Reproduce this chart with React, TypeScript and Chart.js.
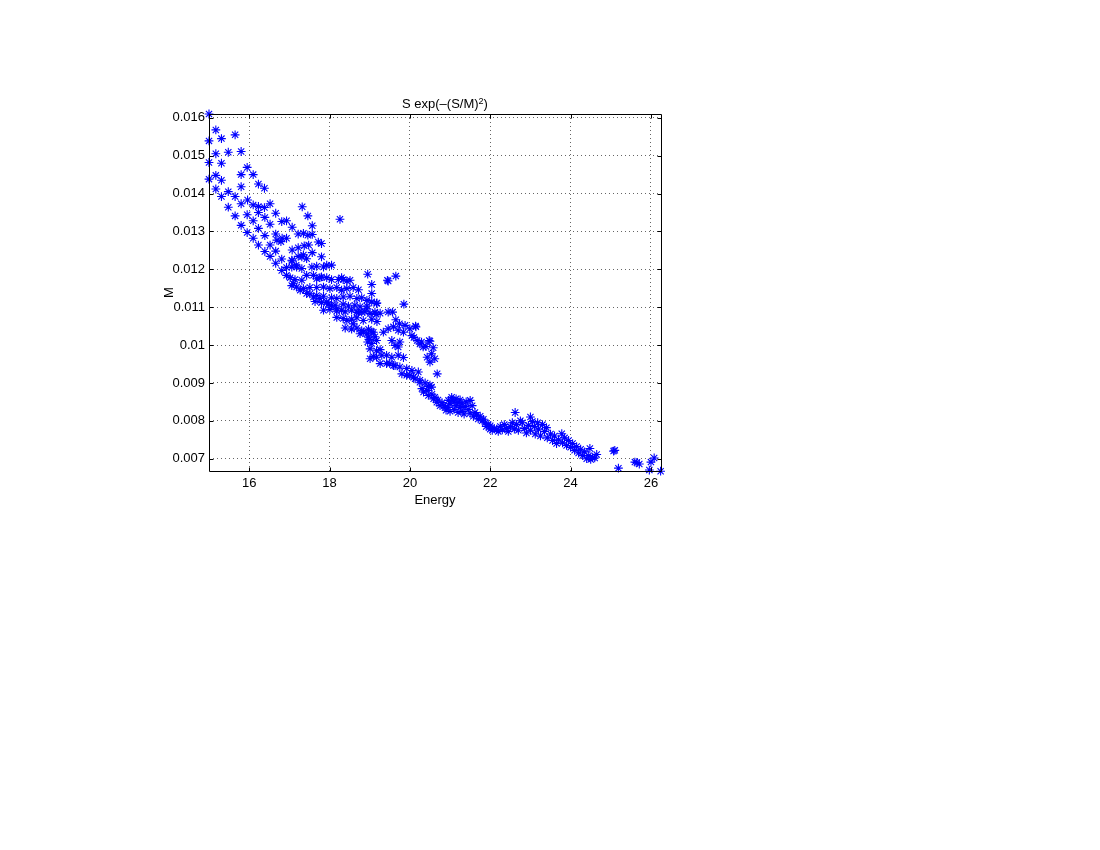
import React, { useEffect, useRef } from 'react';
import { Chart, registerables } from 'chart.js';

Chart.register(...registerables);

const FONT = "'Liberation Sans', Arial, Helvetica, sans-serif";

const titleMain = 'S exp(\u2013(S/M)';
const titleSup = '2';
const titleEnd = ')';
const xLabel = 'Energy';
const yLabel = 'M';

const xTickValues = [16, 18, 20, 22, 24, 26];
const xTickLabels = ['16', '18', '20', '22', '24', '26'];
const yTickValues = [0.007, 0.008, 0.009, 0.01, 0.011, 0.012, 0.013, 0.014, 0.015, 0.016];
const yTickLabels = ['0.007', '0.008', '0.009', '0.01', '0.011', '0.012', '0.013', '0.014', '0.015', '0.016'];

const xMin = 15;
const xMax = 26.25;
const yMin = 0.006675;
const yMax = 0.0161;

// [Energy, M] pairs
const upperLeft: [number, number][] = [
  [15.0, 0.0161], [15.17, 0.01568], [15.0, 0.01539], [15.31, 0.01545], [15.65, 0.01555],
  [15.17, 0.01505], [15.48, 0.01509], [15.8, 0.01511], [15.0, 0.01482], [15.31, 0.0148],
  [15.95, 0.01469], [15.8, 0.0145], [16.1, 0.0145], [15.17, 0.01448], [15.0, 0.01438],
  [15.31, 0.01435], [16.23, 0.01425], [16.38, 0.01414], [15.8, 0.01418], [15.17, 0.01412],
  [15.48, 0.01405], [15.31, 0.01392], [15.65, 0.01392], [15.96, 0.01383], [15.8, 0.01373],
  [16.1, 0.0137], [16.23, 0.01366], [16.38, 0.01363], [16.52, 0.01373], [15.48, 0.01364],
  [16.23, 0.0135], [16.66, 0.01348], [15.65, 0.01341], [15.95, 0.01344], [16.39, 0.01337],
  [16.1, 0.01328], [16.81, 0.01326], [16.93, 0.01328], [16.52, 0.01319], [15.8, 0.01316],
  [17.07, 0.01311], [16.23, 0.01308], [17.32, 0.01365], [17.46, 0.01341], [17.57, 0.01315],
  [15.95, 0.01297], [16.66, 0.01293], [16.82, 0.01282], [16.93, 0.01282], [17.22, 0.01293],
  [17.35, 0.01295], [16.39, 0.01289], [16.1, 0.01282], [17.46, 0.0129], [17.57, 0.01292],
  [16.69, 0.01277], [16.23, 0.01264], [16.52, 0.01264], [16.79, 0.01273], [17.72, 0.01272],
  [17.8, 0.01268], [17.07, 0.01251], [17.22, 0.01257], [17.37, 0.01262], [17.48, 0.01264],
  [16.39, 0.01247], [16.66, 0.01248], [17.57, 0.01244], [16.52, 0.01234], [17.07, 0.01222],
  [17.22, 0.01234], [17.35, 0.01238], [17.8, 0.01233], [16.66, 0.01216], [16.81, 0.01227],
  [17.17, 0.01211], [18.26, 0.01332],
];

const mainBand: [number, number][] = [
  [16.81, 0.01197], [16.93, 0.01205], [16.93, 0.01184], [17.06, 0.01206], [17.18, 0.01206],
  [17.31, 0.01202], [17.56, 0.01206], [17.68, 0.01208], [17.85, 0.01206], [18.05, 0.01211],
  [17.93, 0.01211], [17.06, 0.01224], [17.31, 0.01233], [17.43, 0.01228],
  [17.02, 0.01178], [17.14, 0.01173], [17.31, 0.01171], [17.43, 0.01184], [17.6, 0.01184],
  [17.76, 0.01178], [17.93, 0.01178], [18.05, 0.01173], [18.22, 0.01173], [18.34, 0.01173],
  [18.51, 0.01171], [18.3, 0.01178], [18.43, 0.01169], [17.68, 0.01175], [17.8, 0.0118],
  [17.06, 0.01157], [17.18, 0.01153], [17.35, 0.01149], [17.51, 0.01152], [17.68, 0.01152],
  [17.85, 0.01153], [18.01, 0.01149], [18.18, 0.01152], [18.3, 0.01145], [18.43, 0.01149],
  [18.59, 0.01152], [18.72, 0.01146], [17.1, 0.01162], [17.27, 0.01145],
  [17.43, 0.01136], [17.51, 0.01135], [17.68, 0.01131], [17.85, 0.01129], [18.05, 0.01125],
  [18.18, 0.01123], [18.34, 0.01127], [18.51, 0.01129], [18.68, 0.01123], [18.8, 0.01125],
  [18.93, 0.01118], [17.6, 0.01127], [17.76, 0.01123], [19.05, 0.01114], [19.18, 0.01111],
  [17.64, 0.01115], [17.8, 0.01112], [17.93, 0.01114], [17.97, 0.01108], [18.14, 0.01105],
  [18.34, 0.01108], [18.47, 0.01103], [18.63, 0.01105], [18.76, 0.01101], [18.93, 0.01103],
  [18.05, 0.01105], [18.18, 0.01096], [18.3, 0.01092],
  [17.85, 0.01092], [18.01, 0.01094], [18.18, 0.0109], [18.39, 0.01088], [18.55, 0.01092],
  [18.72, 0.01086], [18.88, 0.01088], [19.01, 0.01083], [19.13, 0.01087], [19.26, 0.01084],
  [18.68, 0.01087], [18.8, 0.01087], [18.93, 0.01096], [19.16, 0.01081],
  [18.18, 0.01073], [18.34, 0.0107], [18.55, 0.01068], [18.68, 0.01072], [18.84, 0.01065],
  [19.05, 0.01068], [19.18, 0.01062], [18.43, 0.01065], [18.59, 0.01056],
  [18.39, 0.01045], [18.55, 0.01042], [18.68, 0.01045], [18.8, 0.01038], [18.97, 0.01042],
  [19.05, 0.01035], [18.84, 0.01034], [18.97, 0.01021],
  [18.76, 0.0103], [18.93, 0.0103], [19.09, 0.01034], [19.17, 0.01012], [19.13, 0.01022],
  [19.0, 0.01015], [19.05, 0.01004], [18.95, 0.01008], [19.01, 0.0099], [19.17, 0.00985],
  [18.95, 0.01187], [19.46, 0.01169], [19.65, 0.01182], [19.05, 0.0116], [19.05, 0.01136],
  [19.44, 0.01171],
];

const splitBands: [number, number][] = [
  [19.85, 0.01108], [19.17, 0.0111], [19.46, 0.01087], [19.57, 0.01087],
  [19.65, 0.01067], [19.74, 0.01056], [19.88, 0.01052], [20.0, 0.01043], [20.15, 0.01048],
  [20.14, 0.0105], [19.34, 0.01034], [19.46, 0.01043], [19.59, 0.01048], [19.71, 0.01039],
  [19.84, 0.01034], [20.18, 0.01012], [20.29, 0.01008], [20.48, 0.01012], [20.4, 0.00996],
  [20.58, 0.00993], [20.54, 0.00977], [20.62, 0.00964], [20.68, 0.00924], [20.5, 0.0101],
  [20.05, 0.01025], [20.1, 0.0102], [20.25, 0.01003], [20.33, 0.00995],
  [19.55, 0.01012], [19.75, 0.01008], [19.63, 0.00999], [19.71, 0.00995], [20.43, 0.00968],
  [20.5, 0.00955], [19.26, 0.00988],
  [19.17, 0.00968], [19.3, 0.00973], [19.42, 0.00973], [19.55, 0.00968], [19.71, 0.00973],
  [19.84, 0.00967], [19.01, 0.00964], [19.09, 0.0097],
  [19.26, 0.00951], [19.42, 0.00951], [19.59, 0.00946], [19.75, 0.00942], [19.92, 0.00938],
  [20.05, 0.00933], [20.21, 0.00929], [19.5, 0.00951], [19.63, 0.00946],
  [19.8, 0.00924], [19.92, 0.0092], [20.09, 0.00915], [20.25, 0.00907], [20.38, 0.009],
  [20.46, 0.00891], [20.5, 0.00894], [20.54, 0.00889], [20.0, 0.0092], [20.13, 0.00911],
];

const lowerBand: [number, number][] = [
  [20.25, 0.00902], [20.3, 0.00885], [20.34, 0.00876], [20.42, 0.0088], [20.46, 0.00867],
  [20.55, 0.0087], [20.59, 0.00858], [20.62, 0.00862], [20.67, 0.00849], [20.7, 0.00855],
  [20.75, 0.0084], [20.8, 0.00848], [20.85, 0.0084], [20.88, 0.00836], [20.9, 0.00828],
  [20.96, 0.00854], [20.95, 0.00835], [21.0, 0.00845], [21.0, 0.00825], [21.04, 0.00862],
  [21.05, 0.00855], [21.1, 0.0085], [21.1, 0.0083], [21.15, 0.00858], [21.15, 0.0084],
  [21.2, 0.00822], [21.2, 0.00848], [21.25, 0.00855], [21.25, 0.00835], [21.3, 0.00845],
  [21.3, 0.00825], [21.35, 0.00818], [21.38, 0.00838], [21.4, 0.0085], [21.45, 0.0083],
  [21.5, 0.00854], [21.5, 0.0082], [21.55, 0.0084], [21.58, 0.00812], [21.62, 0.00822],
  [21.66, 0.00815], [21.7, 0.00805], [21.75, 0.00812], [21.8, 0.008], [21.83, 0.00804],
  [21.88, 0.00795], [21.9, 0.00785], [21.95, 0.0079], [22.0, 0.00787], [22.0, 0.00778],
  [22.05, 0.00775], [22.1, 0.0078], [22.16, 0.00778], [22.2, 0.00772], [22.25, 0.00785],
  [22.3, 0.00776], [22.35, 0.0079], [22.4, 0.0078], [22.45, 0.00772], [22.5, 0.00785],
  [22.55, 0.00795], [22.62, 0.00822], [22.6, 0.00778], [22.65, 0.0079], [22.7, 0.00775],
  [22.75, 0.008], [22.8, 0.00795], [22.85, 0.0078], [22.9, 0.00768], [22.95, 0.00788],
  [23.0, 0.0081], [23.0, 0.00775], [23.05, 0.00798], [23.1, 0.00785], [23.12, 0.00765],
  [23.18, 0.00795], [23.2, 0.00778], [23.25, 0.0076], [23.3, 0.0079], [23.35, 0.00772],
  [23.4, 0.00782], [23.42, 0.00755], [23.5, 0.00765], [23.55, 0.00748], [23.6, 0.0076],
  [23.65, 0.0074], [23.7, 0.0075], [23.78, 0.00766], [23.8, 0.00742], [23.85, 0.00755],
  [23.9, 0.00735], [23.95, 0.00748], [24.0, 0.0073], [24.05, 0.0074], [24.1, 0.00722],
  [24.15, 0.00732], [24.2, 0.00715], [24.25, 0.00725], [24.3, 0.00708], [24.35, 0.00718],
  [24.4, 0.007], [24.45, 0.00708], [24.48, 0.00727], [24.5, 0.00698], [24.55, 0.00704],
  [24.6, 0.00702], [24.65, 0.00711],
];

const tail: [number, number][] = [
  [25.07, 0.0072], [25.1, 0.00722], [25.19, 0.00675], [25.6, 0.00691], [25.65, 0.0069],
  [25.71, 0.00686], [25.96, 0.0067], [26.0, 0.00691], [26.08, 0.00702], [26.24, 0.00667],
];

const allPoints = [...upperLeft, ...mainBand, ...splitBands, ...lowerBand, ...tail];

const boxPlugin = {
  id: 'matlabBox',
  afterDatasetsDraw(chart: any) {
    const { ctx, chartArea } = chart;
    const { left, right, top, bottom } = chartArea;
    const xs = chart.scales.x;
    const ys = chart.scales.y;
    ctx.save();
    ctx.strokeStyle = '#000';
    ctx.lineWidth = 1;
    ctx.beginPath();
    const L = Math.round(left) + 0.5;
    const R = Math.round(right) + 0.5;
    const T = Math.round(top) + 0.5;
    const B = Math.round(bottom) + 0.5;
    ctx.rect(L, T, R - L, B - T);
    const tl = 4;
    xs.ticks.forEach((t: any) => {
      const px = Math.round(xs.getPixelForValue(t.value)) + 0.5;
      ctx.moveTo(px, B); ctx.lineTo(px, B - tl);
      ctx.moveTo(px, T); ctx.lineTo(px, T + tl);
    });
    ys.ticks.forEach((t: any) => {
      const py = Math.round(ys.getPixelForValue(t.value)) + 0.5;
      ctx.moveTo(L, py); ctx.lineTo(L + tl, py);
      ctx.moveTo(R, py); ctx.lineTo(R - tl, py);
    });
    ctx.stroke();

    // title with a real superscript, centred above the axes
    const mainFont = `13px ${FONT}`;
    const supFont = `9px ${FONT}`;
    ctx.fillStyle = '#000';
    ctx.textBaseline = 'alphabetic';
    ctx.textAlign = 'left';
    ctx.font = mainFont;
    const w1 = ctx.measureText(titleMain).width;
    const w3 = ctx.measureText(titleEnd).width;
    ctx.font = supFont;
    const w2 = ctx.measureText(titleSup).width;
    const total = w1 + w2 + w3;
    const cx = (left + right) / 2 + 10;
    const base = top - 5.7;
    let x = cx - total / 2;
    ctx.font = mainFont;
    ctx.fillText(titleMain, x, base);
    x += w1;
    ctx.font = supFont;
    ctx.fillText(titleSup, x, base - 4);
    x += w2;
    ctx.font = mainFont;
    ctx.fillText(titleEnd, x, base);
    ctx.restore();
  },
};

export default function App() {
  const canvasRef = useRef<HTMLCanvasElement | null>(null);

  useEffect(() => {
    if (!canvasRef.current) return;
    const chart = new Chart(canvasRef.current, {
      type: 'scatter',
      data: {
        datasets: [
          {
            data: allPoints.map(([x, y]) => ({ x, y })),
            pointStyle: 'star',
            pointRadius: 4.4,
            pointHoverRadius: 4.4,
            pointBorderWidth: 1.1,
            borderColor: '#0000ff',
            backgroundColor: '#0000ff',
            clip: false as any,
          },
        ],
      },
      options: {
        responsive: false,
        animation: false,
        devicePixelRatio: 1,
        events: [],
        layout: { padding: { left: 159, right: 439, top: 114, bottom: 339 } },
        plugins: {
          legend: { display: false },
          tooltip: { enabled: false },
          title: { display: false },
        },
        scales: {
          x: {
            type: 'linear',
            min: xMin,
            max: xMax,
            afterBuildTicks: (s: any) => {
              s.ticks = xTickValues.map((v) => ({ value: v }));
            },
            afterFit: (s: any) => {
              s.height = 40;
            },
            ticks: {
              color: '#000',
              font: { family: FONT, size: 13 },
              padding: 5,
              maxRotation: 0,
              autoSkip: false,
              callback: (_v: any, i: number) => xTickLabels[i],
            },
            grid: { color: 'rgba(0,0,0,0.6)', lineWidth: 1, drawTicks: false },
            border: { display: false, dash: [1, 3] },
            title: {
              display: true,
              text: xLabel,
              color: '#000',
              font: { family: FONT, size: 13 },
              padding: { top: 0, bottom: 3 },
            },
          },
          y: {
            type: 'linear',
            min: yMin,
            max: yMax,
            afterBuildTicks: (s: any) => {
              s.ticks = yTickValues.map((v) => ({ value: v }));
            },
            afterFit: (s: any) => {
              s.width = 50;
            },
            ticks: {
              color: '#000',
              font: { family: FONT, size: 13 },
              padding: 4,
              autoSkip: false,
              callback: (_v: any, i: number) => yTickLabels[i],
            },
            grid: { color: 'rgba(0,0,0,0.6)', lineWidth: 1, drawTicks: false },
            border: { display: false, dash: [1, 3] },
            title: {
              display: true,
              text: yLabel,
              color: '#000',
              font: { family: FONT, size: 13 },
              padding: { top: 3, bottom: 0 },
            },
          },
        },
      },
      plugins: [boxPlugin],
    });
    return () => chart.destroy();
  }, []);

  return (
    <div style={{ position: 'absolute', left: 0, top: 0, width: 1100, height: 850, background: '#fff' }}>
      <canvas ref={canvasRef} width={1100} height={850} style={{ display: 'block' }} />
    </div>
  );
}
